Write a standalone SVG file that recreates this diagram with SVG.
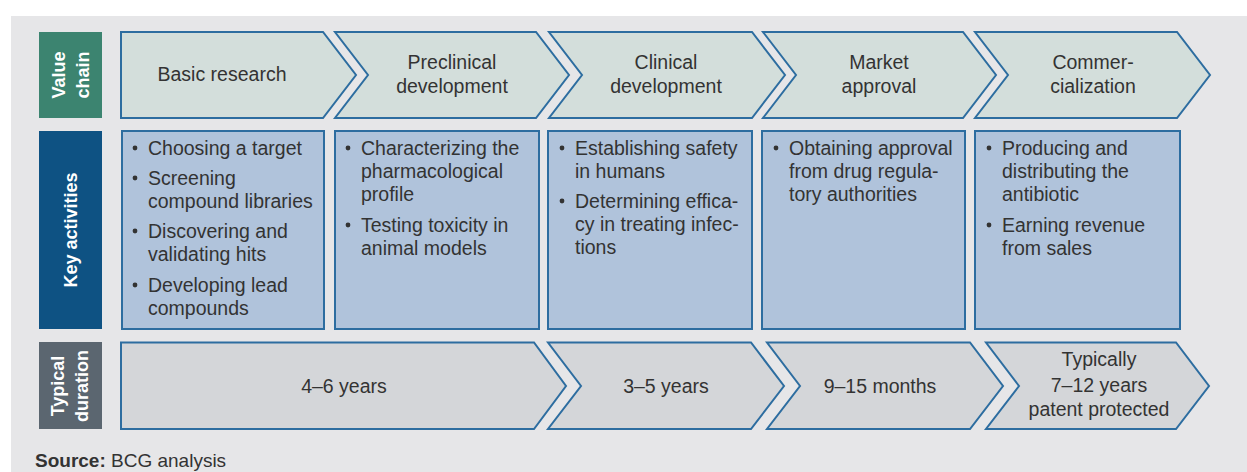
<svg xmlns="http://www.w3.org/2000/svg" width="1247" height="472" viewBox="0 0 1247 472">
<style>
  .bg{fill:#e6e6e8}
  .vc{fill:#d3dedb;stroke:#2d6da0;stroke-width:2;stroke-linejoin:miter}
  .ka{fill:#b0c3db;stroke:#2d6da0;stroke-width:2}
  .td{fill:#d4d6d9;stroke:#2d6da0;stroke-width:2;stroke-linejoin:miter}
  text{font-family:"Liberation Sans",Arial,sans-serif;fill:#333333}
  .t{font-size:19.5px;text-anchor:middle}
  .b{font-size:19.5px}
  .lab{font-size:18px;font-weight:bold;fill:#ffffff;text-anchor:middle}
  .dot{fill:#333333}
</style>
<rect class="bg" x="11" y="16" width="1236" height="456"/>

<g id="label-value-chain">
  <rect x="39" y="32" width="63" height="86" fill="#3c8470"/>
  <text class="lab" transform="translate(65,75) rotate(-90)">Value</text>
  <text class="lab" transform="translate(89,75) rotate(-90)">chain</text>
</g>
<g id="label-key-activities">
  <rect x="39" y="131" width="63" height="198" fill="#0e5283"/>
  <text class="lab" transform="translate(77,230) rotate(-90)">Key activities</text>
</g>
<g id="label-typical-duration">
  <rect x="39" y="342" width="63" height="87" fill="#5b6670"/>
  <text class="lab" transform="translate(64,386) rotate(-90)">Typical</text>
  <text class="lab" transform="translate(88,386) rotate(-90)">duration</text>
</g>

<g id="vc-basic-research">
  <path class="vc" d="M121,32 H323 L356,75 L323,118 H121 Z"/>
  <text class="t" x="222" y="81">Basic research</text>
</g>
<g id="vc-preclinical">
  <path class="vc" d="M335,32 H536 L569,75 L536,118 H335 L368,75 Z"/>
  <text class="t" x="452" y="69">Preclinical</text>
  <text class="t" x="452" y="93">development</text>
</g>
<g id="vc-clinical">
  <path class="vc" d="M549,32 H752 L785,75 L752,118 H549 L582,75 Z"/>
  <text class="t" x="666" y="69">Clinical</text>
  <text class="t" x="666" y="93">development</text>
</g>
<g id="vc-market">
  <path class="vc" d="M763,32 H963 L996,75 L963,118 H763 L796,75 Z"/>
  <text class="t" x="879" y="69">Market</text>
  <text class="t" x="879" y="93">approval</text>
</g>
<g id="vc-commercialization">
  <path class="vc" d="M975,32 H1177 L1210,75 L1177,118 H975 L1008,75 Z"/>
  <text class="t" x="1093" y="69">Commer-</text>
  <text class="t" x="1093" y="93">cialization</text>
</g>

<g id="ka-basic-research">
  <rect class="ka" x="122" y="131" width="202" height="198"/>
  <circle class="dot" cx="135" cy="148" r="2.4"/>
  <text class="b" x="148" y="155">Choosing a target</text>
  <circle class="dot" cx="135" cy="178" r="2.4"/>
  <text class="b" x="148" y="185">Screening</text>
  <text class="b" x="148" y="208">compound libraries</text>
  <circle class="dot" cx="135" cy="231" r="2.4"/>
  <text class="b" x="148" y="238">Discovering and</text>
  <text class="b" x="148" y="261">validating hits</text>
  <circle class="dot" cx="135" cy="285" r="2.4"/>
  <text class="b" x="148" y="292">Developing lead</text>
  <text class="b" x="148" y="315">compounds</text>
</g>
<g id="ka-preclinical">
  <rect class="ka" x="335" y="131" width="204" height="198"/>
  <circle class="dot" cx="348" cy="148" r="2.4"/>
  <text class="b" x="361" y="155">Characterizing the</text>
  <text class="b" x="361" y="178">pharmacological</text>
  <text class="b" x="361" y="201">profile</text>
  <circle class="dot" cx="348" cy="225" r="2.4"/>
  <text class="b" x="361" y="232">Testing toxicity in</text>
  <text class="b" x="361" y="255">animal models</text>
</g>
<g id="ka-clinical">
  <rect class="ka" x="548" y="131" width="204" height="198"/>
  <circle class="dot" cx="562" cy="148" r="2.4"/>
  <text class="b" x="575" y="155">Establishing safety</text>
  <text class="b" x="575" y="178">in humans</text>
  <circle class="dot" cx="562" cy="201" r="2.4"/>
  <text class="b" x="575" y="208">Determining effica-</text>
  <text class="b" x="575" y="231">cy in treating infec-</text>
  <text class="b" x="575" y="254">tions</text>
</g>
<g id="ka-market">
  <rect class="ka" x="762" y="131" width="203" height="198"/>
  <circle class="dot" cx="776" cy="148" r="2.4"/>
  <text class="b" x="789" y="155">Obtaining approval</text>
  <text class="b" x="789" y="178">from drug regula-</text>
  <text class="b" x="789" y="201">tory authorities</text>
</g>
<g id="ka-commercialization">
  <rect class="ka" x="975" y="131" width="205" height="198"/>
  <circle class="dot" cx="989" cy="148" r="2.4"/>
  <text class="b" x="1002" y="155">Producing and</text>
  <text class="b" x="1002" y="178">distributing the</text>
  <text class="b" x="1002" y="201">antibiotic</text>
  <circle class="dot" cx="989" cy="225" r="2.4"/>
  <text class="b" x="1002" y="232">Earning revenue</text>
  <text class="b" x="1002" y="255">from sales</text>
</g>

<g id="td-4-6-years">
  <path class="td" d="M121,342.5 H534 L566,386 L534,429 H121 Z"/>
  <text class="t" x="344" y="393">4–6 years</text>
</g>
<g id="td-3-5-years">
  <path class="td" d="M548,342.5 H751 L784,386 L751,429 H548 L581,386 Z"/>
  <text class="t" x="666" y="393">3–5 years</text>
</g>
<g id="td-9-15-months">
  <path class="td" d="M767,342.5 H970 L1003,386 L970,429 H767 L800,386 Z"/>
  <text class="t" x="880" y="393">9–15 months</text>
</g>
<g id="td-patent">
  <path class="td" d="M986,342.5 H1176 L1209,386 L1176,429 H986 L1019,386 Z"/>
  <text class="t" x="1099" y="366">Typically</text>
  <text class="t" x="1099" y="392">7–12 years</text>
  <text class="t" x="1099" y="416">patent protected</text>
</g>

<g id="connectors"></g>

<text x="35" y="467" style="font-size:19px"><tspan font-weight="bold">Source:</tspan> BCG analysis</text>
</svg>
